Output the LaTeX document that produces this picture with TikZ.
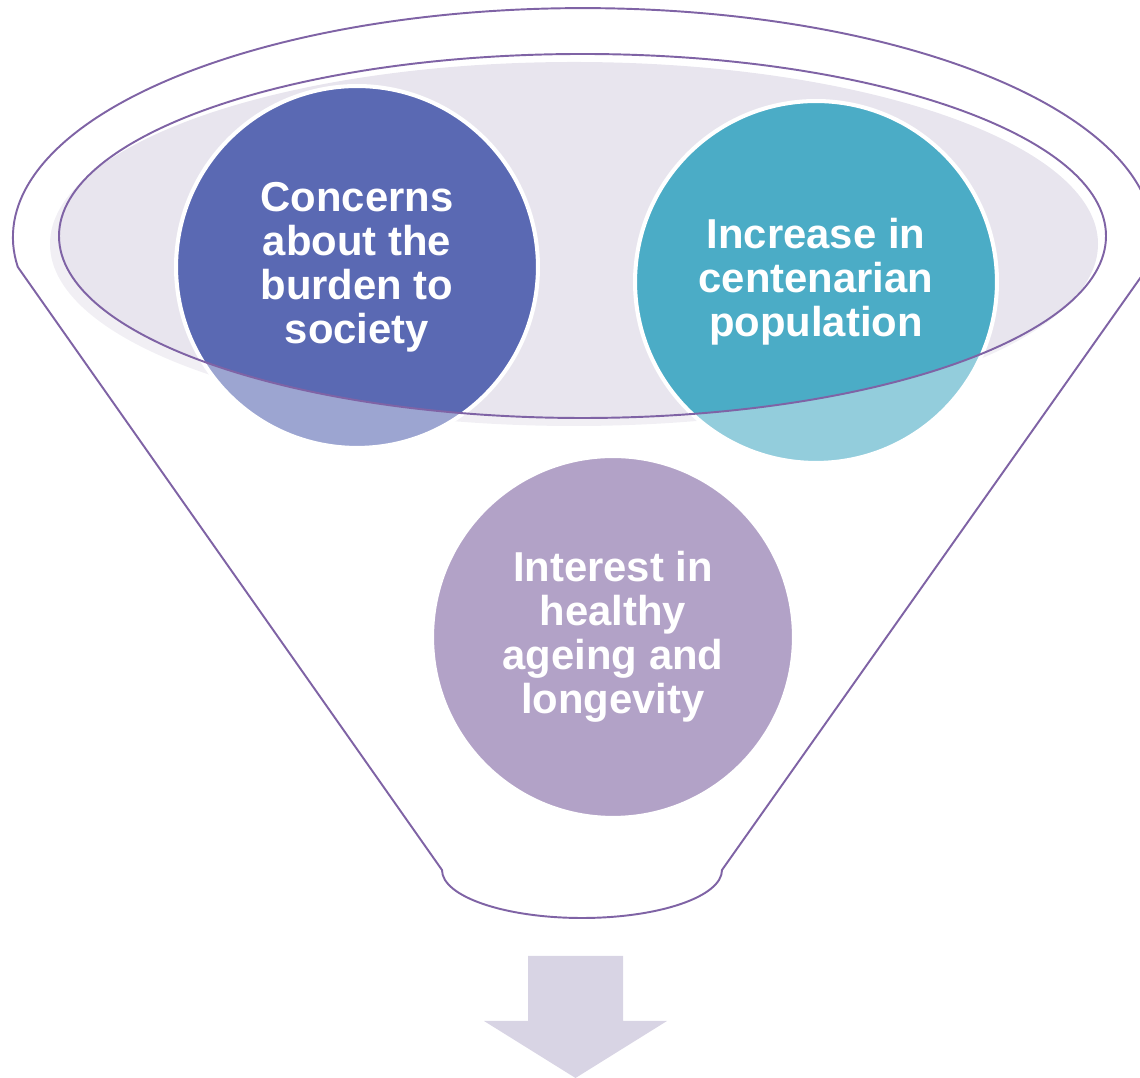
\documentclass[tikz,border=0pt]{standalone}
\usepackage{fontspec}
\setmainfont{Liberation Sans}
\usepackage{xcolor}
\usepackage{tikz}
\definecolor{rimline}{HTML}{7F63A5}
\definecolor{mouthbg}{HTML}{E8E5EE}
\definecolor{burdenblue}{HTML}{5A69B3}
\definecolor{centteal}{HTML}{4BACC6}
\definecolor{ageviolet}{HTML}{8064A2}
\definecolor{arrowbg}{HTML}{D8D4E4}

\begin{document}
\begin{tikzpicture}[x=0.02cm, y=0.02cm,
  every node/.style={font=\bfseries\fontsize{23.8}{25}\selectfont},
  bubble/.style={circle,draw=white,line width=2.3pt,minimum size=7.24cm,
                 inner sep=0pt,text=white,align=center},
  rim/.style={draw=rimline,line width=1.1pt}]
\useasboundingbox (0,0) rectangle (1140,1078);
\clip (0,0) rectangle (1140,1078);
% mouth of the funnel
\fill[mouthbg] (574,834) ellipse (524 and 182);
\node[bubble,fill=burdenblue] (burden) at (357,811) {Concerns\\about the\\burden to\\society};
\node[bubble,fill=centteal] (cent) at (816,796) {Increase in\\centenarian\\population};
\node[bubble,fill=ageviolet] (ageing) at (613,441) {Interest in\\healthy\\ageing and\\longevity};
% body of the funnel, light wash over everything outside the mouth
\fill[white,fill opacity=0.4,even odd rule]
  (1148,811) arc (-7.5:187.5:570 and 229) -- (442,208)
  arc (180:360:140 and 48) -- cycle
  (582.5,842) ellipse (523.5 and 182);
\draw[rim] (1148,811) arc (-7.5:187.5:570 and 229) -- (442,208)
  arc (180:360:140 and 48) -- cycle;
\draw[rim] (582.5,842) ellipse (523.5 and 182);
% arrow out of the funnel
\fill[arrowbg] (528,122) -- (623,122) -- (623,57) -- (667,57) -- (575.5,0)
  -- (484,57) -- (528,57) -- cycle;
\end{tikzpicture}
\end{document}
